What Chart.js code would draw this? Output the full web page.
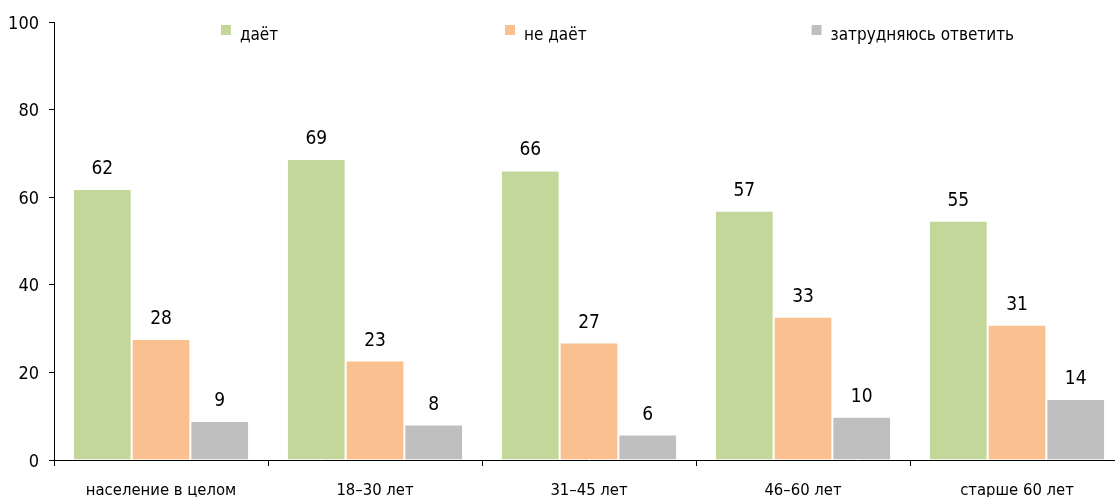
<!DOCTYPE html>
<html lang="ru">
<head>
  <meta charset="UTF-8" />
  <title>даёт / не даёт</title>
  <script src="https://cdn.jsdelivr.net/npm/chart.js"></script>
  <style>
    html,body{margin:0;padding:0;overflow:hidden;background:#fff}
    #wrap{position:absolute;left:0;top:0}
  </style>
</head>
<body>
  <div id="wrap"><canvas id="barChart" width="1140" height="510"></canvas></div>

  <script>
  const categories = ['население в целом', '18–30 лет', '31–45 лет', '46–60 лет', 'старше 60 лет'];
  const seriesNames = ['даёт', 'не даёт', 'затрудняюсь ответить'];
  const givesValues = [61.9, 68.7, 66.1, 56.9, 54.6];
  const notGivesValues = [27.6, 22.7, 26.8, 32.7, 30.9];
  const hardToSayValues = [8.9, 8.1, 5.8, 9.9, 13.9];
  const yTicks = [0, 20, 40, 60, 80, 100];

  const colors = ['#c4d79b', '#fac090', '#bfbfbf'];
  const FONT = '"DejaVu Sans Condensed", "Liberation Sans Narrow", sans-serif';

  // value labels above each bar
  const barLabels = {
    id: 'barLabels',
    afterDatasetsDraw(chart) {
      const ctx = chart.ctx;
      ctx.save();
      ctx.font = '19px ' + FONT;
      ctx.fillStyle = '#000';
      ctx.textAlign = 'center';
      ctx.textBaseline = 'alphabetic';
      chart.data.datasets.forEach((ds, i) => {
        chart.getDatasetMeta(i).data.forEach((bar, j) => {
          ctx.fillText(Math.round(ds.data[j]), bar.x, bar.y - 15);
        });
      });
      ctx.restore();
    }
  };

  // legend row drawn inside the plot, spaced like the original
  const legendRow = {
    id: 'legendRow',
    afterDraw(chart) {
      const {ctx, chartArea} = chart;
      const fr = [0.156, 0.4215, 0.708];
      ctx.save();
      ctx.font = '17px ' + FONT;
      ctx.textBaseline = 'alphabetic';
      ctx.textAlign = 'left';
      chart.data.datasets.forEach((ds, i) => {
        const x = chartArea.left + fr[i] * (chartArea.right - chartArea.left);
        const y = chartArea.top + 3;
        ctx.fillStyle = ds.backgroundColor;
        ctx.fillRect(x, y, 10, 10);
        ctx.fillStyle = '#000';
        ctx.fillText(ds.label, x + 19, y + 15);
      });
      ctx.restore();
    }
  };

  const seriesData = [givesValues, notGivesValues, hardToSayValues];

  new Chart(document.getElementById('barChart'), {
    type: 'bar',
    data: {
      labels: categories,
      datasets: seriesNames.map((name, i) => ({
        label: name,
        data: seriesData[i],
        backgroundColor: colors[i],
        borderColor: '#fff',
        borderWidth: 1,
        barPercentage: 1,
        categoryPercentage: 0.823
      }))
    },
    options: {
      responsive: false,
      animation: false,
      devicePixelRatio: 1,
      layout: {padding: {top: 22, right: 16, left: 0, bottom: 0}},
      plugins: {legend: {display: false}, tooltip: {enabled: false}},
      scales: {
        x: {
          grid: {display: true, drawOnChartArea: false, drawTicks: true, tickLength: 6, color: '#000', offset: true},
          border: {display: true, color: '#000', width: 1},
          ticks: {color: '#000', font: {family: FONT, size: 16.5}, padding: 15, maxRotation: 0, autoSkip: false},
          afterFit(scale) { scale.height = 50; }
        },
        y: {
          min: 0, max: 100,
          afterBuildTicks(scale) { scale.ticks = yTicks.map(v => ({value: v})); },
          grid: {display: true, drawOnChartArea: false, drawTicks: true, tickLength: 5, color: '#000'},
          border: {display: true, color: '#000', width: 1},
          ticks: {color: '#000', font: {family: FONT, size: 18}, padding: 10, labelOffset: 2},
          afterFit(scale) { scale.width = 54; }
        }
      }
    },
    plugins: [barLabels, legendRow]
  });
  </script>
</body>
</html>
